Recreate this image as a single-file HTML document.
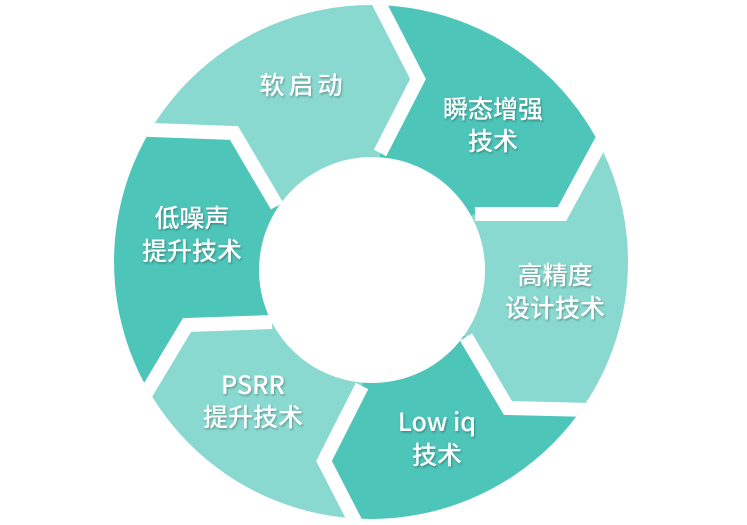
<!DOCTYPE html>
<html><head><meta charset="utf-8"><style>
html,body{margin:0;padding:0;background:#fff;width:747px;height:525px;overflow:hidden;}
svg{display:block}
text{font-family:"Noto Sans CJK SC","Liberation Sans",sans-serif;font-size:25px;font-weight:500;fill:#fff;text-anchor:middle;}
</style></head><body>
<svg width="747" height="525" viewBox="0 0 747 525" xmlns="http://www.w3.org/2000/svg" style="overflow:hidden">
<defs>
<clipPath id="c"><circle cx="371" cy="262" r="257"/></clipPath>
<filter id="s" x="-20%" y="-20%" width="140%" height="140%"><feDropShadow dx="1" dy="1.5" stdDeviation="1" flood-color="#000" flood-opacity="0.3"/></filter>
</defs>
<g clip-path="url(#c)">
<polygon fill="#8ad9d0" points="372,270 277,206 234,133 152,130 60,127 60,0 378,0 380,5 418,79 380,153"/>
<polygon fill="#4ec5b9" points="372,270 380,153 418,79 380,5 378,0 642,0 642,66 602,140 562,214 475,214"/>
<polygon fill="#8ad9d0" points="372,270 475,214 562,214 602,140 642,66 700,66 700,412 592,410 508,408 466,337"/>
<polygon fill="#4ec5b9" points="372,270 466,337 508,408 592,410 700,412 700,525 357,525 324,461 362,386"/>
<polygon fill="#8ad9d0" points="372,270 362,386 324,461 357,525 40,525 105,462 145,395 187,325 272,322"/>
<polygon fill="#4ec5b9" points="372,270 272,322 187,325 145,395 105,462 40,462 40,127 60,127 152,130 234,133 277,206"/>
<g fill="none" stroke="#fff" stroke-width="14" stroke-linejoin="miter">
<polyline points="378,0 380,5 418,79 380,153"/>
<polyline points="642,66 602,140 562,214 475,214"/>
<polyline points="700,412 592,410 508,408 466,337"/>
<polyline points="357,525 324,461 362,386"/>
<polyline points="105,462 145,395 187,325 272,322"/>
<polyline points="60,127 152,130 234,133 277,206"/>
</g>
</g>
<circle cx="372" cy="270" r="113" fill="#fff"/>
<g filter="url(#s)">
<text x="303" y="94" style="letter-spacing:4px">软启动</text>
<text x="493" y="118">瞬态增强</text>
<text x="493" y="150">技术</text>
<text x="192" y="227">低噪声</text>
<text x="192" y="260">提升技术</text>
<text x="555" y="284">高精度</text>
<text x="555" y="317">设计技术</text>
<text x="253" y="394">PSRR</text>
<text x="253" y="426">提升技术</text>
<text x="437" y="431">Low iq</text>
<text x="437" y="464">技术</text>
</g>
</svg>
</body></html>
